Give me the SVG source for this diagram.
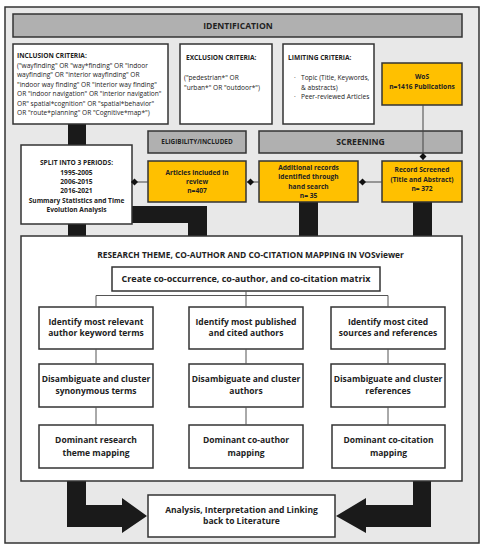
<svg xmlns="http://www.w3.org/2000/svg" width="485" height="550" viewBox="0 0 485 550">
<defs>
<style>
text{font-family:"Open Sans","Noto Sans","DejaVu Sans",sans-serif;fill:#222;}
.b{font-weight:700;}
.c{text-anchor:middle;}
.box{fill:#fff;stroke:#333;stroke-width:1.5;}
.ybox{fill:#ffc000;stroke:#333;stroke-width:1.5;}
.gbar{fill:#b0b0b0;stroke:#333;stroke-width:1.5;}
.thick{fill:#1a1a1a;}
.ln{stroke:#555;stroke-width:1;fill:none;}
.dl{stroke:#444;stroke-width:1;fill:none;marker-end:url(#dia);}
.s6{font-size:6.6px;}
.s7{font-size:8.5px;}
</style>
<marker id="dia" markerUnits="userSpaceOnUse" markerWidth="10" markerHeight="10" viewBox="-8 -5 10 10" refX="0" refY="0" orient="auto">
<path d="M-7,0 L-3.5,-3.5 L0,0 L-3.5,3.5 Z" fill="#111"/>
</marker>
</defs>
<rect x="5" y="7" width="474" height="536" fill="#e8e8e8" stroke="#333" stroke-width="1.5"/>

<g id="thick-connectors">
<rect class="thick" x="68" y="120" width="18" height="118"/>
<path class="thick" d="M120,206 H207 V238 H188 V223 H120 Z"/>
<rect class="thick" x="299" y="200" width="19" height="38"/>
<rect class="thick" x="413" y="200" width="19" height="38"/>
<path class="thick" d="M67,479 H86 V505 H122 V498 L147,516 L122,533 V527 H67 Z"/>
<path class="thick" d="M413,479 H431 V527 H366 V533 L336,516 L366,498 V505 H413 Z"/>
</g>

<g id="identification">
<rect class="gbar" x="13" y="14" width="449" height="23"/>
<text class="b c" x="238" y="28.7" font-size="8.6">IDENTIFICATION</text>
</g>

<g id="inclusion">
<rect class="box" x="13" y="44" width="155" height="80"/>
<text class="b s6" x="17" y="57.5">INCLUSION CRITERIA:</text>
<text class="s6" x="17" y="67.5">("wayfinding" OR "way*finding" OR "indoor</text>
<text class="s6" x="17" y="77">wayfinding" OR "interior wayfinding" OR</text>
<text class="s6" x="17" y="86.5">"indoor way finding" OR "interior way finding"</text>
<text class="s6" x="17" y="96">OR "indoor navigation" OR "interior navigation"</text>
<text class="s6" x="17" y="105.5">OR" spatial*cognition" OR "spatial*behavior"</text>
<text class="s6" x="17" y="115">OR "route*planning" OR "Cognitive*map*")</text>
</g>

<g id="exclusion">
<rect class="box" x="180" y="44" width="92" height="80"/>
<text class="b s6" x="186" y="60">EXCLUSION CRITERIA:</text>
<text class="s6" x="184" y="79.5">("pedestrian*" OR</text>
<text class="s6" x="184" y="89.5">"urban*" OR "outdoor*")</text>
</g>

<g id="limiting">
<rect class="box" x="283" y="44" width="91" height="80"/>
<text class="b s6" x="288" y="60">LIMITING CRITERIA:</text>
<text class="s6" x="294" y="79.5">·</text>
<text class="s6" x="301" y="79.5">Topic (Title, Keywords,</text>
<text class="s6" x="301" y="89.5">&amp; abstracts)</text>
<text class="s6" x="294" y="99">·</text>
<text class="s6" x="301" y="99">Peer-reviewed Articles</text>
</g>

<g id="wos">
<rect class="ybox" x="382" y="63" width="80" height="42"/>
<text class="b c s6" x="422" y="79">WoS</text>
<text class="b c s6" x="422" y="89">n=1416 Publications</text>
</g>

<g id="eligibility">
<rect class="gbar" x="148" y="131" width="98" height="22"/>
<text class="b c" x="197" y="144.3" font-size="6.4">ELIGIBILITY/INCLUDED</text>
</g>

<g id="screening">
<rect class="gbar" x="259" y="131" width="203" height="22"/>
<text class="b c" x="360.5" y="145" font-size="8.6">SCREENING</text>
</g>

<g id="split">
<rect class="box" x="21" y="145" width="111" height="79"/>
<text class="b c s6" x="76.5" y="165.3">SPLIT INTO 3 PERIODS:</text>
<text class="b c s6" x="76.5" y="174.7">1995-2005</text>
<text class="b c s6" x="76.5" y="184">2006-2015</text>
<text class="b c s6" x="76.5" y="193.3">2016-2021</text>
<text class="b c s6" x="76.5" y="202.7">Summary Statistics and Time</text>
<text class="b c s6" x="76.5" y="212">Evolution Analysis</text>
</g>

<g id="articles">
<rect class="ybox" x="148" y="161" width="98" height="41"/>
<text class="b c s6" x="197" y="174.7">Articles included in</text>
<text class="b c s6" x="197" y="184">review</text>
<text class="b c s6" x="197" y="193">n=407</text>
</g>

<g id="additional">
<rect class="ybox" x="259" y="161" width="99" height="41"/>
<text class="b c s6" x="308.5" y="169.7">Additional records</text>
<text class="b c s6" x="308.5" y="179.3">identified through</text>
<text class="b c s6" x="308.5" y="188.7">hand search</text>
<text class="b c s6" x="308.5" y="198">n= 35</text>
</g>

<g id="record">
<rect class="ybox" x="382" y="161" width="80" height="41"/>
<text class="b c s6" x="422" y="172">Record Screened</text>
<text class="b c s6" x="422" y="182">(Title and Abstract)</text>
<text class="b c s6" x="422" y="191.3">n= 372</text>
</g>

<g id="research">
<rect class="box" x="21" y="236" width="441" height="245"/>
<text class="b c" x="250.5" y="258" font-size="8.4">RESEARCH THEME, CO-AUTHOR AND CO-CITATION MAPPING IN VOSviewer</text>
</g>

<g id="create">
<rect class="box" x="112" y="267" width="268" height="24"/>
<text class="b c" x="246" y="282.2" font-size="9">Create co-occurrence, co-author, and co-citation matrix</text>
</g>

<g id="identify-keywords">
<rect class="box" x="39" y="307" width="114" height="42"/>
<text class="b c s7" x="96" y="324.6">Identify most relevant</text>
<text class="b c s7" x="96" y="336.4">author keyword terms</text>
</g>
<g id="identify-authors">
<rect class="box" x="189" y="307" width="114" height="42"/>
<text class="b c s7" x="246" y="324.6">Identify most published</text>
<text class="b c s7" x="246" y="336.4">and cited authors</text>
</g>
<g id="identify-sources">
<rect class="box" x="331" y="307" width="114" height="42"/>
<text class="b c s7" x="388" y="324.6">Identify most cited</text>
<text class="b c s7" x="388" y="336.4">sources and references</text>
</g>

<g id="disambiguate-terms">
<rect class="box" x="39" y="364" width="114" height="43"/>
<text class="b c s7" x="96" y="382">Disambiguate and cluster</text>
<text class="b c s7" x="96" y="394">synonymous terms</text>
</g>
<g id="disambiguate-authors">
<rect class="box" x="189" y="364" width="114" height="43"/>
<text class="b c s7" x="246" y="382">Disambiguate and cluster</text>
<text class="b c s7" x="246" y="394">authors</text>
</g>
<g id="disambiguate-references">
<rect class="box" x="331" y="364" width="114" height="43"/>
<text class="b c s7" x="388" y="382">Disambiguate and cluster</text>
<text class="b c s7" x="388" y="394">references</text>
</g>

<g id="dominant-theme">
<rect class="box" x="39" y="425" width="114" height="43"/>
<text class="b c s7" x="96" y="443">Dominant research</text>
<text class="b c s7" x="96" y="456.3">theme mapping</text>
</g>
<g id="dominant-coauthor">
<rect class="box" x="189" y="425" width="114" height="43"/>
<text class="b c s7" x="246" y="443">Dominant co-author</text>
<text class="b c s7" x="246" y="456.3">mapping</text>
</g>
<g id="dominant-cocitation">
<rect class="box" x="332" y="425" width="113" height="43"/>
<text class="b c s7" x="388.5" y="443">Dominant co-citation</text>
<text class="b c s7" x="388.5" y="456.3">mapping</text>
</g>

<g id="analysis">
<rect class="box" x="148" y="495" width="187" height="42"/>
<text class="b c s7" x="241.5" y="513">Analysis, Interpretation and Linking</text>
<text class="b c s7" x="241.5" y="524.2">back to Literature</text>
</g>

<g id="connectors">
<path class="dl" d="M423,105 V160"/>
<path class="dl" d="M382,182 H359"/>
<path class="dl" d="M259,182 H247"/>
<path class="dl" d="M148,182 H131"/>
<path class="ln" d="M246,291 V307 M96,307 V295.5 H388 V307"/>
<path class="ln" d="M96,349 V364 M246,349 V364 M388,349 V364"/>
<path class="ln" d="M96,407 V425 M246,407 V425 M388,407 V425"/>
</g>
</svg>
